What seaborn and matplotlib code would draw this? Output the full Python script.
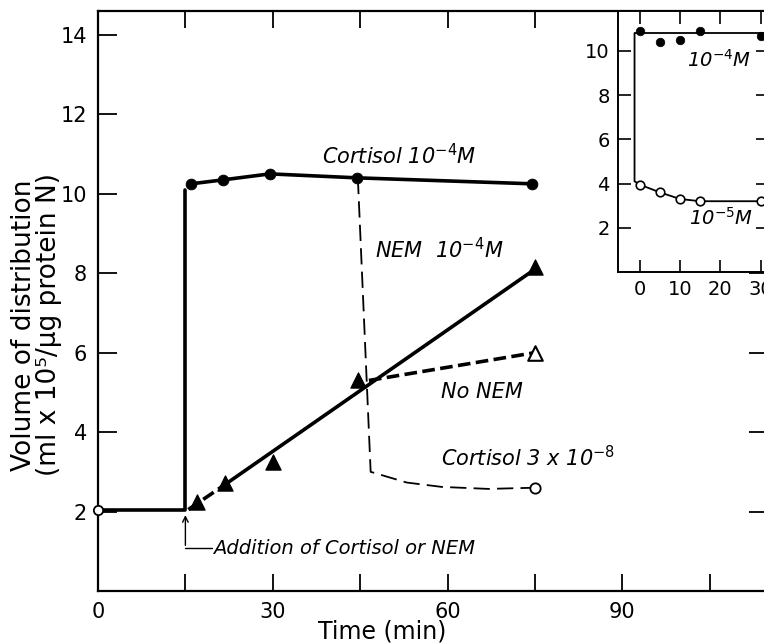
import seaborn as sns
import matplotlib.pyplot as plt

# main panel: time (min) vs volume of distribution
base_x = [0, 15, 15]
base_y = [2.05, 2.05, 10.1]

cort4_x = [16, 21.5, 29.5, 44.5, 74.5]
cort4_y = [10.25, 10.35, 10.5, 10.4, 10.25]

nem_x = [17, 21.8, 30, 44.6, 75]
nem_y = [2.23, 2.71, 3.24, 5.32, 8.15]
nem_fit_x = [15.5, 22, 74.5]
nem_fit_y = [2.05, 2.7, 8.05]

nonem_x = [46.5, 75]
nonem_y = [5.3, 6.0]

cort8_x = [44.6, 46.8, 53, 59, 67, 75]
cort8_y = [10.4, 3.0, 2.73, 2.62, 2.57, 2.6]

# inset: two cortisol concentrations
in_x = [0, 5, 10, 15, 30]
in_hi_y = [10.9, 10.4, 10.5, 10.9, 10.65]
in_lo_y = [3.95, 3.6, 3.3, 3.2, 3.2]
in_top_x = [-1.3, 34]
in_top_y = [10.8, 10.8]
in_drop_x = [-1.3, -1.3]
in_drop_y = [10.8, 4.1]

sns.set_style('ticks')
plt.rcParams['font.family'] = ['DejaVu Sans']
plt.rcParams['mathtext.default'] = 'it'
for key in ['text.color', 'axes.labelcolor', 'xtick.color', 'ytick.color', 'axes.edgecolor']:
    plt.rcParams[key] = 'black'

fig = plt.figure(figsize=(7.64, 6.44), dpi=100)
ax = fig.add_axes([98/764, 53/644, 670/764, 580/644])

k = 'black'
# baseline + jump at addition
sns.lineplot(x=base_x, y=base_y, ax=ax, sort=False, estimator=None, color=k, lw=2.6)
sns.scatterplot(x=base_x[:1], y=base_y[:1], ax=ax, s=45, facecolor='white',
                edgecolor=k, linewidth=1.3, zorder=5, clip_on=False)

# cortisol 1e-4
sns.lineplot(x=cort4_x, y=cort4_y, ax=ax, sort=False, estimator=None, color=k, lw=2.6)
sns.scatterplot(x=cort4_x, y=cort4_y, ax=ax, s=60, color=k, edgecolor=k, zorder=5)

# NEM
sns.lineplot(x=nem_fit_x[:2], y=nem_fit_y[:2], ax=ax, sort=False, estimator=None,
             color=k, lw=2.6, linestyle=(0, (3.5, 1.5)))
sns.lineplot(x=nem_fit_x[1:], y=nem_fit_y[1:], ax=ax, sort=False, estimator=None,
             color=k, lw=2.6)
sns.scatterplot(x=nem_x, y=nem_y, ax=ax, s=120, marker='^', color=k, edgecolor=k, zorder=5)

# no NEM
sns.lineplot(x=nonem_x, y=nonem_y, ax=ax, sort=False, estimator=None,
             color=k, lw=2.6, linestyle=(0, (3.5, 1.5)))
sns.scatterplot(x=nonem_x[-1:], y=nonem_y[-1:], ax=ax, s=110, marker='^',
                facecolor='white', edgecolor=k, linewidth=1.5, zorder=5)

# cortisol 3x10-8
sns.lineplot(x=cort8_x, y=cort8_y, ax=ax, sort=False, estimator=None,
             color=k, lw=1.3, linestyle=(0, (9, 4)))
sns.scatterplot(x=cort8_x[-1:], y=cort8_y[-1:], ax=ax, s=55, facecolor='white',
                edgecolor=k, linewidth=1.3, zorder=5)

# addition arrow
ax.annotate('', xy=(15, 1.98), xytext=(15, 1.08),
            arrowprops=dict(arrowstyle='->', color=k, lw=1.0))
ax.plot([15, 19.5], [1.08, 1.08], color=k, lw=1.0)

tfs = 15
ax.text(19.8, 1.08, 'Addition of Cortisol or NEM', fontsize=14, style='italic', va='center')
ax.text(38.5, 10.95, 'Cortisol 10$^{-4}$M', fontsize=tfs, style='italic', va='center')
ax.text(47.5, 8.6, 'NEM  10$^{-4}$M', fontsize=tfs, style='italic', va='center')
ax.text(58.8, 5.0, 'No NEM', fontsize=tfs, style='italic', va='center')
ax.text(58.8, 3.35, 'Cortisol 3 x 10$^{-8}$', fontsize=tfs, style='italic', va='center')

ax.set_xlim(0, 115)
ax.set_ylim(0, 14.6)
ax.set_xticks(range(0, 120, 15))
ax.set_xticklabels(['0', '', '30', '', '60', '', '90', ''])
ax.set_yticks(range(2, 15, 2))
ax.tick_params(direction='in', width=1.3, labelsize=15, pad=8)
ax.tick_params(axis='y', length=14, right=True)
ax.tick_params(axis='x', length=12, top=True)
for s in ax.spines.values():
    s.set_linewidth(1.6)
    s.set_visible(True)

ax.set_ylabel('Volume of distribution\n(ml x 10⁵/µg protein N)', fontsize=19, linespacing=0.95)
ax.yaxis.set_label_coords(-0.054, 0.459)
ax.set_xlabel('Time (min)', fontsize=17)
ax.xaxis.set_label_coords(0.424, -0.05)

# inset
ins = fig.add_axes([618/764, (644-272)/644, 150/764, 261/644])
ins.set_facecolor('white')
sns.lineplot(x=in_top_x, y=in_top_y, ax=ins, sort=False, estimator=None, color=k, lw=1.3)
sns.lineplot(x=in_drop_x + in_x, y=in_drop_y + in_lo_y, ax=ins, sort=False,
             estimator=None, color=k, lw=1.3)
sns.scatterplot(x=in_x, y=in_hi_y, ax=ins, s=38, color=k, edgecolor=k, zorder=5)
sns.scatterplot(x=in_x, y=in_lo_y, ax=ins, s=38, facecolor='white',
                edgecolor=k, linewidth=1.2, zorder=5)
ins.text(11.8, 9.6, '10$^{-4}$M', fontsize=14, style='italic', va='center')
ins.text(12.3, 2.45, '10$^{-5}$M', fontsize=14, style='italic', va='center')

ins.set_xlim(-5.4, 31.8)
ins.set_ylim(0, 11.8)
ins.set_xticks([0, 10, 20, 30])
ins.set_yticks([2, 4, 6, 8, 10])
ins.tick_params(direction='in', width=1.2, length=9, labelsize=14, pad=6,
                top=True, right=True)
for s in ins.spines.values():
    s.set_linewidth(1.4)
    s.set_visible(True)

fig.savefig('out.png', dpi=100)
